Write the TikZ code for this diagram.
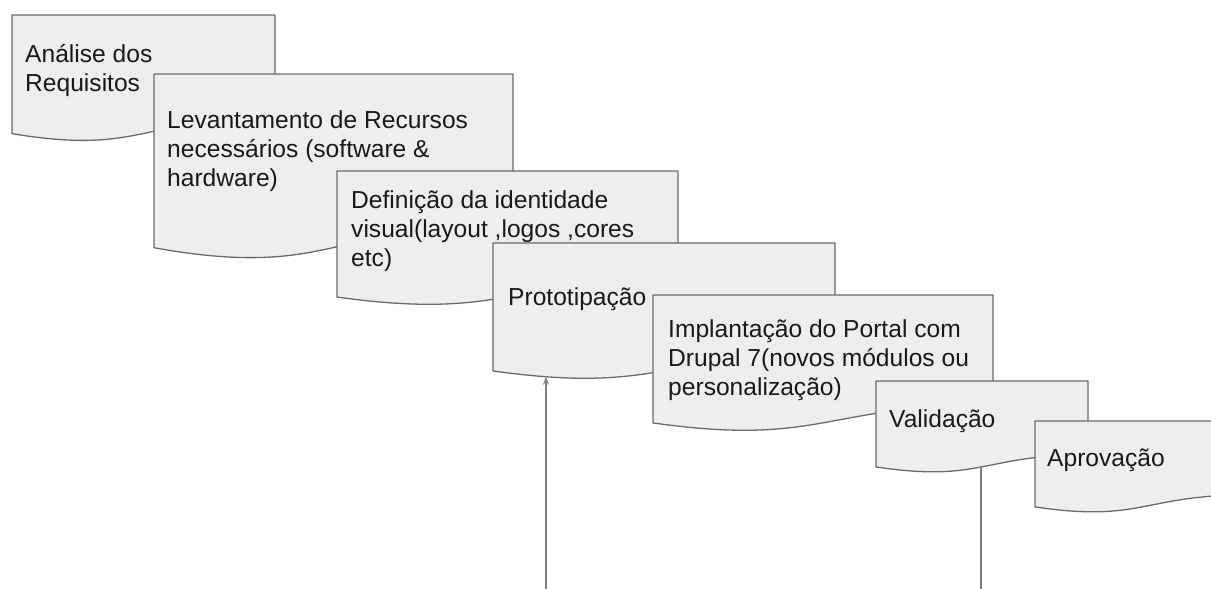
\documentclass[tikz,border=0pt]{standalone}
\usepackage{fontspec}
\setmainfont{Liberation Sans}
\usetikzlibrary{arrows.meta,intersections}
\definecolor{boxfill}{HTML}{EEEEEE}
\definecolor{boxline}{HTML}{6A6A6A}
\definecolor{connline}{HTML}{808080}
\tikzset{
  docstyle/.style={draw=boxline, fill=boxfill, line width=1.3pt, line join=round},
  txt/.style={align=left, inner sep=0pt, font=\fontsize{24.6}{28.8}\selectfont, text=black!90},
  conn/.style={draw=connline, line width=1.6pt},
}
\newcommand{\docbox}[5]{%
  \draw[docstyle, name path=#1] (#2,#3) -- ({#2+#4},#3) -- ({#2+#4},{#3+0.802*#5})
    .. controls ({#2+0.5*#4},{#3+0.802*#5}) and ({#2+0.5*#4},{#3+1.1075*#5}) .. (#2,{#3+0.934*#5}) -- cycle;
}
\begin{document}
\begin{tikzpicture}[x=1pt,y=-1pt]
\useasboundingbox (0,0) rectangle (1211,589);
\clip (0,0) rectangle (1211,589);
% base anchor of a multi-line node is the baseline of its last line
\docbox{b1}{12}{15}{263}{127}
\node[txt, anchor=base west] (t1) at (25,91) {Análise dos\\Requisitos};
\docbox{b2}{154}{74}{359}{186}
\node[txt, anchor=base west] (t2) at (167,186.5) {Levantamento de Recursos\\necessários (software \&\\hardware)};
\docbox{b3}{337}{171}{341}{135}
\node[txt, anchor=base west] (t3) at (351,266.5) {Definição da identidade\\visual(layout ,logos ,cores\\etc)};
\docbox{b4}{493}{243}{342}{137}
\node[txt, anchor=base west] (t4) at (508,305) {Prototipação};
\docbox{b5}{653}{295}{340}{137}
\node[txt, anchor=base west] (t5) at (668,395.5) {Implantação do Portal com\\Drupal 7(novos módulos ou\\personalização)};
\docbox{b6}{876}{381}{212}{92}
\node[txt, anchor=base west] (t6) at (889,427) {Validação};
\docbox{b7}{1035}{421}{215}{92}
\node[txt, anchor=base west] (t7) at (1047,466) {Aprovação};
% connectors
\coordinate (c1) at (546,595);
\coordinate (c2) at (981,595);
\path[name path=v1] (c1) -- (546,300);
\path[name path=v2] (c2) -- (981,440);
\path[name intersections={of=b4 and v1, by=i1}];
\path[name intersections={of=b6 and v2, by=i2}];
\draw[conn, -{Stealth[length=8pt,width=6pt]}] (c1) -- (i1);
\draw[conn] (c2) -- (i2);
\end{tikzpicture}
\end{document}
